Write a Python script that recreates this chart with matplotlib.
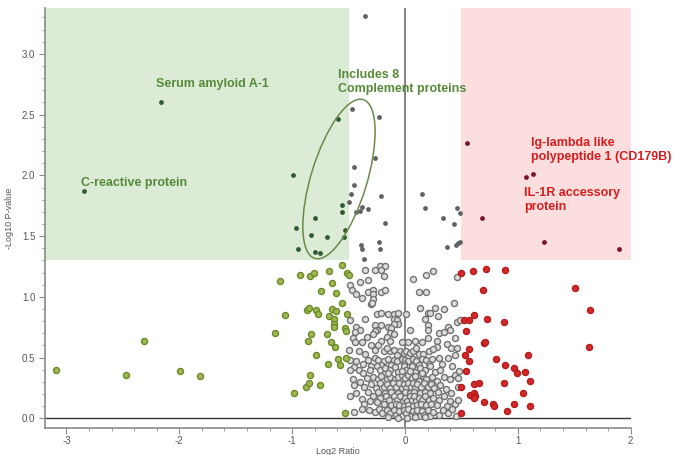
import matplotlib
matplotlib.use("Agg")
import matplotlib.pyplot as plt
from matplotlib.patches import Rectangle, Ellipse
from matplotlib.transforms import ScaledTranslation
from matplotlib.ticker import MultipleLocator, FixedLocator, FixedFormatter

plt.rcParams['font.family'] = ['Liberation Sans', 'DejaVu Sans']
plt.rcParams['axes.unicode_minus'] = False

# ---------------- data ----------------
# significant, down-regulated (dark green)
sig_down_x = [-2.16, -2.84, -0.59, -0.99, -0.80, -0.97, -0.83, -0.69, -0.95, -0.80, -0.75, -0.56, -0.56, -0.53, -0.54]
sig_down_y = [2.60, 1.87, 2.46, 2.00, 1.65, 1.57, 1.51, 1.49, 1.39, 1.37, 1.36, 1.76, 1.70, 1.55, 1.49]

# significant p-value, small fold change (dark grey)
sig_mid_x = [-0.35, -0.47, -0.23, -0.27, -0.45, -0.455, -0.48, -0.495, -0.43, -0.40, -0.38, -0.33,
             -0.21, -0.18, -0.39, -0.38, -0.36, -0.23, -0.22,
             0.15, 0.18, 0.34, 0.43, 0.46, 0.49, 0.37, 0.45, 0.47, 0.49]
sig_mid_y = [3.31, 2.55, 2.48, 2.14, 2.07, 1.92, 1.85, 1.78, 1.70, 1.71, 1.74, 1.72,
             1.83, 1.61, 1.43, 1.39, 1.31, 1.45, 1.39,
             1.85, 1.73, 1.65, 1.60, 1.73, 1.69, 1.41, 1.43, 1.44, 1.45]

# significant, up-regulated (dark red)
sig_up_x = [0.55, 1.07, 1.13, 0.68, 1.23, 1.90]
sig_up_y = [2.27, 1.99, 2.01, 1.65, 1.45, 1.39]

# non-significant, fold change < -0.5 (olive)
down_x = [-3.09, -2.47, -2.31, -1.99, -1.82, -1.11, -1.06, -1.15, -0.93, -0.84, -0.81, -0.67, -0.65,
          -0.74, -0.61, -0.87, -0.85, -0.79, -0.77, -0.67, -0.65, -0.61, -0.63, -0.63, -0.63,
          -0.83, -0.86, -0.69, -0.66, -0.62, -0.79, -0.59, -0.68, -0.58, -0.84, -0.88, -0.85,
          -0.75, -0.98, -0.51, -0.50, -0.56, -0.56, -0.51, -0.53, -0.52, -0.52, -0.53]
down_y = [0.40, 0.36, 0.64, 0.39, 0.35, 1.13, 0.85, 0.70, 1.18, 1.17, 1.20, 1.21, 1.11,
          1.05, 1.03, 0.89, 0.91, 0.89, 0.86, 0.84, 0.90, 0.88, 0.82, 0.78, 0.75,
          0.69, 0.64, 0.69, 0.63, 0.59, 0.52, 0.49, 0.45, 0.44, 0.36, 0.26, 0.29,
          0.27, 0.21, 1.20, 1.18, 1.26, 0.95, 0.86, 0.74, 0.72, 0.50, 0.04]

# non-significant, fold change > 0.5 (red)
up_x = [0.50, 0.60, 0.72, 0.89, 0.69, 1.51, 1.64, 0.52, 0.57, 0.61, 0.73, 0.88, 0.54, 0.70, 0.71,
        0.57, 1.63, 0.53, 1.09, 0.81, 0.57, 0.89, 0.97, 0.99, 1.06, 0.54, 1.11, 0.88, 0.66,
        0.61, 0.50, 1.05, 0.58, 0.61, 0.62, 0.61, 0.70, 0.78, 0.79, 0.97, 1.11, 0.90, 0.50]
up_y = [1.20, 1.21, 1.23, 1.22, 1.06, 1.07, 0.89, 0.81, 0.81, 0.85, 0.82, 0.79, 0.72, 0.62, 0.63,
        0.57, 0.59, 0.52, 0.52, 0.49, 0.47, 0.44, 0.41, 0.37, 0.38, 0.39, 0.31, 0.29, 0.29,
        0.28, 0.26, 0.21, 0.19, 0.21, 0.18, 0.17, 0.13, 0.12, 0.10, 0.12, 0.10, 0.06, 0.04]

# non-significant, small fold change (grey hollow)
ns_pts = [
    (-0.22, 1.25), (-0.18, 1.25), (-0.21, 1.22), (-0.35, 1.22), (-0.27, 1.22), (-0.19, 1.17), (-0.40, 1.12),
    (-0.33, 1.14), (-0.49, 1.10), (-0.47, 1.06), (-0.43, 1.02), (-0.38, 0.99), (-0.33, 1.04), (-0.28, 1.06),
    (-0.28, 1.02), (-0.28, 0.98), (-0.30, 0.94), (-0.29, 0.95), (-0.21, 1.04), (-0.18, 1.06), (0.07, 1.15),
    (0.19, 1.18), (0.25, 1.21), (0.12, 1.04), (0.19, 1.04), (0.43, 0.95), (0.46, 1.16),
    (-0.25, 0.86), (-0.21, 0.87), (-0.15, 0.86), (-0.10, 0.86), (-0.06, 0.87), (0.01, 0.86), (-0.10, 0.82),
    (-0.07, 0.81), (-0.06, 0.78), (-0.10, 0.78), (0.13, 0.91), (0.20, 0.87), (0.22, 0.87), (0.27, 0.91),
    (0.18, 0.82), (0.29, 0.84), (0.35, 0.90), (-0.35, 0.82), (-0.49, 0.81), (-0.27, 0.77), (-0.21, 0.77),
    (-0.15, 0.75), (0.20, 0.77), (0.46, 0.79), (0.49, 0.81),
    (-0.43, 0.75), (-0.40, 0.73), (-0.44, 0.71), (-0.25, 0.73), (-0.27, 0.72), (-0.12, 0.74), (-0.13, 0.70),
    (-0.10, 0.69), (0.04, 0.73), (0.20, 0.73), (0.30, 0.70), (0.35, 0.71), (0.38, 0.75), (0.40, 0.73),
    (-0.46, 0.66), (-0.44, 0.63), (-0.38, 0.63), (-0.34, 0.67), (-0.28, 0.69), (-0.21, 0.64), (-0.16, 0.67),
    (-0.13, 0.64), (-0.03, 0.63), (0.03, 0.63), (0.09, 0.64), (0.15, 0.63), (0.20, 0.66), (0.28, 0.64),
    (0.37, 0.61), (0.44, 0.66),
    (-0.30, 0.60), (-0.27, 0.56), (-0.24, 0.60), (0.28, 0.59), (0.41, 0.58), (0.46, 0.58), (-0.50, 0.56),
    (-0.41, 0.55), (-0.35, 0.53), (-0.19, 0.55), (-0.13, 0.55), (-0.10, 0.56), (-0.04, 0.55), (-0.01, 0.54),
    (0.01, 0.55), (0.04, 0.54), (0.07, 0.55), (0.12, 0.53), (0.16, 0.53), (0.21, 0.55), (0.30, 0.50),
    (0.38, 0.50), (0.44, 0.52), (-0.16, 0.58), (0.10, 0.58), (-0.07, 0.52), (0.25, 0.57),
    (-0.49, 0.48), (-0.43, 0.47), (-0.37, 0.45), (-0.33, 0.48), (-0.27, 0.50), (-0.24, 0.48), (-0.19, 0.47),
    (-0.15, 0.49), (-0.10, 0.48), (-0.07, 0.47), (-0.03, 0.49), (0.00, 0.48), (0.03, 0.47), (0.07, 0.49),
    (0.10, 0.47), (0.15, 0.49), (0.19, 0.48), (0.24, 0.49), (-0.21, 0.44), (-0.12, 0.44), (-0.01, 0.45),
    (0.12, 0.44), (0.21, 0.45), (0.33, 0.45), (0.42, 0.43), (-0.45, 0.42), (-0.30, 0.43),
    (-0.49, 0.40), (-0.41, 0.40), (-0.37, 0.37), (-0.31, 0.40), (-0.25, 0.43), (-0.22, 0.40), (-0.18, 0.41),
    (-0.13, 0.40), (-0.09, 0.42), (-0.06, 0.38), (-0.01, 0.43), (0.01, 0.40), (0.06, 0.43), (0.09, 0.38),
    (0.13, 0.41), (0.18, 0.40), (0.22, 0.43), (0.27, 0.38), (0.31, 0.40), (0.35, 0.34), (0.40, 0.32),
    (0.44, 0.36), (-0.46, 0.32), (-0.40, 0.30), (-0.34, 0.33), (-0.28, 0.34), (-0.24, 0.32), (-0.21, 0.35),
    (-0.16, 0.32), (-0.13, 0.34), (-0.09, 0.32), (-0.06, 0.34), (-0.03, 0.36), (0.00, 0.33), (0.03, 0.36),
    (0.06, 0.33), (0.09, 0.35), (0.12, 0.31), (0.16, 0.35), (0.19, 0.32), (0.24, 0.34), (0.28, 0.31),
    (-0.03, 0.39), (0.04, 0.39), (0.15, 0.37), (-0.15, 0.37), (0.48, 0.39), (0.47, 0.33),
    (-0.45, 0.27), (-0.36, 0.26), (-0.30, 0.28), (-0.26, 0.25), (-0.22, 0.29), (-0.19, 0.26), (-0.16, 0.28),
    (-0.13, 0.25), (-0.11, 0.29), (-0.08, 0.26), (-0.05, 0.29), (-0.03, 0.25), (-0.01, 0.28), (0.01, 0.25),
    (0.03, 0.29), (0.05, 0.26), (0.07, 0.29), (0.09, 0.25), (0.11, 0.28), (0.14, 0.26), (0.17, 0.29),
    (0.20, 0.26), (0.23, 0.28), (0.26, 0.25), (0.31, 0.27), (0.36, 0.24), (0.41, 0.21), (0.47, 0.26),
    (-0.33, 0.22), (-0.24, 0.22), (-0.18, 0.21), (-0.12, 0.22), (-0.06, 0.21), (0.00, 0.22), (0.04, 0.21),
    (0.08, 0.22), (0.13, 0.21), (0.18, 0.22), (0.22, 0.21), (0.29, 0.22), (-0.49, 0.18), (-0.43, 0.21),
    (-0.38, 0.16),
    (-0.28, 0.18), (-0.22, 0.17), (-0.17, 0.18), (-0.14, 0.15), (-0.10, 0.18), (-0.07, 0.15), (-0.04, 0.18),
    (-0.02, 0.14), (0.00, 0.17), (0.02, 0.14), (0.04, 0.18), (0.06, 0.15), (0.08, 0.18), (0.10, 0.14),
    (0.12, 0.17), (0.15, 0.15), (0.18, 0.18), (0.21, 0.15), (0.25, 0.17), (0.30, 0.15), (0.35, 0.18),
    (0.40, 0.14), (0.44, 0.12), (-0.25, 0.13), (-0.19, 0.12), (-0.12, 0.11), (-0.08, 0.12), (-0.05, 0.11),
    (-0.01, 0.10), (0.03, 0.11), (0.07, 0.10), (0.11, 0.11), (0.14, 0.12), (0.19, 0.11), (0.23, 0.12),
    (0.28, 0.11), (-0.36, 0.12), (-0.31, 0.14), (0.37, 0.10), (0.47, 0.15),
    (-0.38, 0.08), (-0.32, 0.07), (-0.27, 0.05), (-0.23, 0.08), (-0.20, 0.04), (-0.16, 0.07), (-0.13, 0.04),
    (-0.10, 0.07), (-0.08, 0.03), (-0.05, 0.06), (-0.03, 0.02), (-0.01, 0.07), (0.01, 0.04), (0.03, 0.08),
    (0.05, 0.02), (0.07, 0.06), (0.09, 0.03), (0.11, 0.07), (0.13, 0.02), (0.15, 0.06), (0.17, 0.03),
    (0.20, 0.07), (0.22, 0.02), (0.25, 0.05), (0.30, 0.03), (0.34, 0.07), (0.38, 0.04), (0.42, 0.08),
    (0.45, 0.02), (-0.15, 0.01), (-0.06, 0.00), (0.02, 0.00), (0.09, 0.01), (0.18, 0.01), (-0.45, 0.05),
]
ns_x = [p[0] for p in ns_pts]
ns_y = [p[1] for p in ns_pts]

x_ticks = [-3, -2, -1, 0, 1, 2]
x_ticklabels = ["-3", "-2", "-1", "0", "1", "2"]
y_ticks = [0.0, 0.5, 1.0, 1.5, 2.0, 2.5, 3.0]
y_ticklabels = ["0.0", "0.5", "1.0", "1.5", "2.0", "2.5", "3.0"]

fc_threshold = 0.5
p_threshold = 1.3

# ---------------- figure ----------------
fig = plt.figure(figsize=(6.8, 4.55), dpi=100)
ax = fig.add_axes([45 / 680, 27 / 455, 585.7 / 680, 420 / 455])
xmin, xmax = -3.19, 2.0
ymin, ymax = -0.08, 3.378
ax.set_xlim(xmin, xmax)
ax.set_ylim(ymin, ymax)

ax.add_patch(Rectangle((xmin, p_threshold), -fc_threshold - xmin, ymax - p_threshold,
                       facecolor="#dcebd6", edgecolor="none", zorder=0))
ax.add_patch(Rectangle((fc_threshold, p_threshold), xmax - fc_threshold, ymax - p_threshold,
                       facecolor="#fcdede", edgecolor="none", zorder=0))

ax.axhline(0, color="#333333", lw=1.0, zorder=1)
ax.axvline(0, color="#7a7a7a", lw=1.3, zorder=1)

hollow_s = 19
ax.scatter(ns_x, ns_y, s=hollow_s, facecolor="#dedede", edgecolor="#727272", linewidth=1.0, zorder=2)
ax.scatter(down_x, down_y, s=hollow_s, facecolor="#9fb94f", edgecolor="#6a8a2c", linewidth=1.0, zorder=3)
ax.scatter(up_x, up_y, s=hollow_s, facecolor="#d42a2a", edgecolor="#b41c1c", linewidth=1.0, zorder=3)

dot_s = 12
ax.scatter(sig_mid_x, sig_mid_y, s=dot_s, color="#616161", linewidth=0, zorder=4)
ax.scatter(sig_down_x, sig_down_y, s=dot_s, color="#2d5a33", linewidth=0, zorder=4)
ax.scatter(sig_up_x, sig_up_y, s=dot_s, color="#7a1426", linewidth=0, zorder=4)

# ellipse around complement proteins (size in pixels, centred on a data point)
ell = Ellipse((0, 0), 166, 56, angle=73, facecolor="none", edgecolor="#6b8a4a", lw=1.1,
              transform=ScaledTranslation(-0.585, 1.97, ax.transData), zorder=5)
ax.add_patch(ell)

green_txt = "#568a3a"
red_txt = "#d41e1e"
tkw = dict(fontsize=9, fontweight="bold", ha="left", va="center", zorder=6, linespacing=1.25)
ax.text(-2.21, 2.75, "Serum amyloid A-1", color=green_txt, **tkw)
ax.text(-2.87, 1.94, "C-reactive protein", color=green_txt, **tkw)
ax.text(-0.594, 2.77, "Includes 8\nComplement proteins", color=green_txt, **tkw)
ax.text(1.114, 2.21, "Ig-lambda like\npolypeptide 1 (CD179B)", color=red_txt, **tkw)
ax.text(1.058, 1.795, "IL-1R accessory\nprotein", color=red_txt, **tkw)

# axes styling
for s in ("top", "right"):
    ax.spines[s].set_visible(False)
for s in ("left", "bottom"):
    ax.spines[s].set_color("#8a8a8a")
    ax.spines[s].set_linewidth(1.2)

ax.xaxis.set_major_locator(FixedLocator(x_ticks))
ax.xaxis.set_major_formatter(FixedFormatter(x_ticklabels))
ax.yaxis.set_major_locator(FixedLocator(y_ticks))
ax.yaxis.set_major_formatter(FixedFormatter(y_ticklabels))
ax.xaxis.set_minor_locator(MultipleLocator(0.2))
ax.yaxis.set_minor_locator(MultipleLocator(0.1))
ax.tick_params(which="major", length=4, width=0.8, color="#8a8a8a", labelsize=7, labelcolor="#555555")
ax.tick_params(axis="x", which="major", pad=1.5)
ax.tick_params(axis="y", which="major", pad=3)
ax.tick_params(which="minor", length=2.5, width=0.6, color="#8a8a8a")

ax.set_xlabel("Log2 Ratio", fontsize=6.5, color="#555555", labelpad=1)
ax.set_ylabel("-Log10 P-value", fontsize=6.5, color="#555555", labelpad=6)

fig.savefig("out.png", dpi=100)
